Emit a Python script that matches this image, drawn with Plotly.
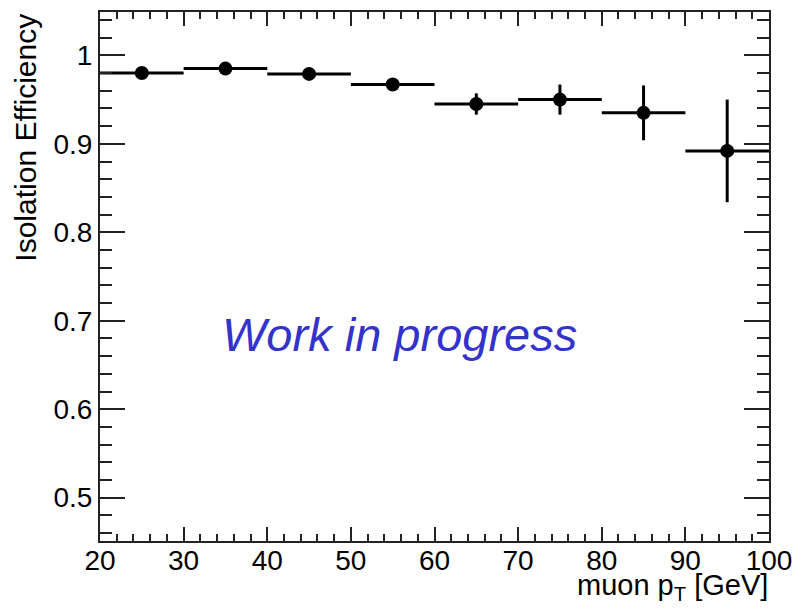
import plotly.graph_objects as go

# Data
pt_centers = [25, 35, 45, 55, 65, 75, 85, 95]
pt_halfwidth = [5, 5, 5, 5, 5, 5, 5, 5]
efficiency = [0.980, 0.985, 0.979, 0.967, 0.945, 0.950, 0.935, 0.892]
eff_error = [0.003, 0.003, 0.003, 0.004, 0.012, 0.017, 0.031, 0.058]

FONT = "Arial, Liberation Sans, Helvetica, sans-serif"
AX = "#222222"

fig = go.Figure()
fig.add_trace(go.Scatter(
    x=pt_centers, y=efficiency, mode="markers",
    marker=dict(symbol="circle", size=14, color="black"),
    error_x=dict(type="data", array=pt_halfwidth, symmetric=True,
                 color="black", thickness=3, width=0),
    error_y=dict(type="data", array=eff_error, symmetric=True,
                 color="black", thickness=3, width=0),
    showlegend=False, cliponaxis=True,
))

fig.add_annotation(
    x=55.85, y=0.685, xref="x", yref="y", text="<i>Work in progress</i>",
    showarrow=False, xanchor="center", yanchor="middle",
    font=dict(family=FONT, size=47, color="#3333CC"),
)
fig.add_annotation(
    x=1.002, y=-0.05, xref="paper", yref="paper",
    text="muon p<sub>T</sub> [GeV]", showarrow=False,
    xanchor="right", yanchor="top",
    font=dict(family=FONT, size=29, color="black"),
)
fig.add_annotation(
    x=-0.1126, y=1.0, xref="paper", yref="paper",
    text="Isolation Efficiency", showarrow=False, textangle=-90,
    xanchor="center", yanchor="top",
    font=dict(family=FONT, size=30, color="black"),
)

fig.update_xaxes(
    range=[20, 100], showgrid=False, zeroline=False,
    showline=True, linecolor=AX, linewidth=2, mirror="ticks",
    ticks="inside", ticklen=14, tickwidth=2, tickcolor=AX,
    tick0=0, dtick=10, ticklabelstandoff=-7,
    minor=dict(ticks="inside", ticklen=7, tickwidth=2, tickcolor=AX,
               dtick=2, tick0=0, showgrid=False),
    tickfont=dict(family=FONT, size=28, color="black"),
)
fig.update_yaxes(
    range=[0.451, 1.049], showgrid=False, zeroline=False,
    showline=True, linecolor=AX, linewidth=2, mirror="ticks",
    ticks="inside", ticklen=25, tickwidth=2, tickcolor=AX,
    tick0=0, dtick=0.1, tickformat="~g",
    minor=dict(ticks="inside", ticklen=12, tickwidth=2, tickcolor=AX,
               dtick=0.02, tick0=0, showgrid=False),
    tickfont=dict(family=FONT, size=28, color="black"),
)
fig.update_layout(
    width=802, height=610,
    margin=dict(l=100, r=27, t=10, b=69, pad=0),
    paper_bgcolor="white", plot_bgcolor="white",
    font=dict(family=FONT),
)
fig.write_html("out.html")
